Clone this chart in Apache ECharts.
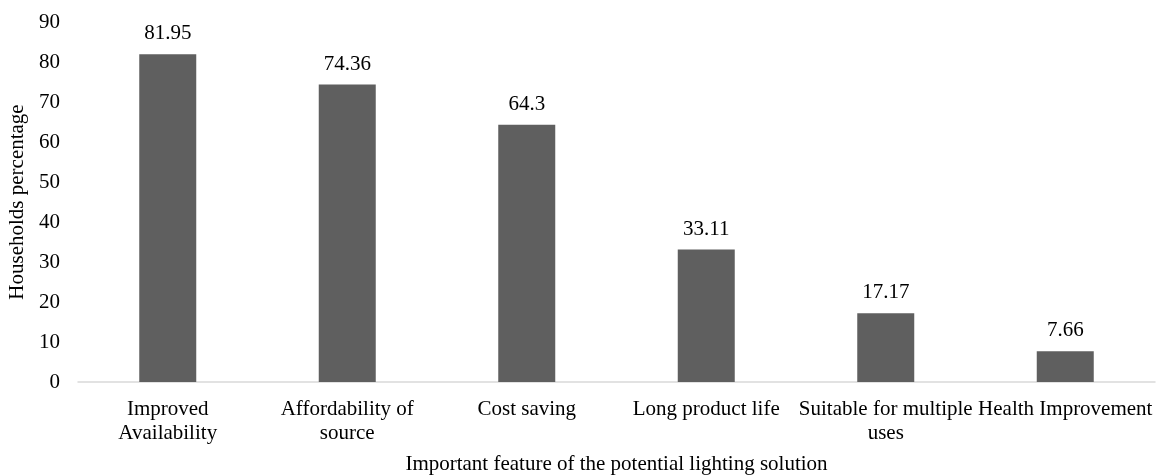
<!DOCTYPE html>
<html><head><meta charset="utf-8">
<script src="https://cdn.jsdelivr.net/npm/echarts@6/dist/echarts.min.js"></script>
<style>html,body{margin:0;padding:0;background:#fff}#c{width:1158px;height:475px}</style>
</head><body><div id="c"></div>
<script>
const categories = ["Improved\nAvailability", "Affordability of\nsource", "Cost saving", "Long product life", "Suitable for multiple\nuses", "Health Improvement"];
const values = [81.95, 74.36, 64.3, 33.11, 17.17, 7.66];
const xAxisName = "Important feature of the potential lighting solution";
const yAxisName = "Households percentage";
const font = "Liberation Serif";
const chart = echarts.init(document.getElementById('c'));
chart.setOption({
  animation: false,
  textStyle: {fontFamily: font},
  grid: {left: 78, right: 3, top: 22, bottom: 93, containLabel: false, outerBoundsMode: 'none'},
  xAxis: {
    type: 'category', data: categories,
    name: xAxisName, nameLocation: 'middle', nameGap: 72,
    nameTextStyle: {fontFamily: font, fontSize: 21, color: '#000'},
    axisLine: {lineStyle: {color: '#d9d9d9', width: 1.5}},
    axisTick: {show: false},
    axisLabel: {interval: 0, fontFamily: font, fontSize: 21, color: '#000', lineHeight: 24, margin: 15}
  },
  yAxis: {
    type: 'value', min: 0, max: 90, interval: 10,
    name: yAxisName, nameLocation: 'middle', nameGap: 50, nameRotate: 90,
    nameTextStyle: {fontFamily: font, fontSize: 21, color: '#000'},
    axisLine: {show: false}, axisTick: {show: false}, splitLine: {show: false},
    axisLabel: {fontFamily: font, fontSize: 21, color: '#000', margin: 18}
  },
  series: [{
    type: 'bar', data: values, barWidth: 57,
    itemStyle: {color: '#5f5f5f'},
    label: {show: true, position: 'top', distance: 10, fontFamily: font, fontSize: 21, color: '#000'}
  }]
});
</script></body></html>
